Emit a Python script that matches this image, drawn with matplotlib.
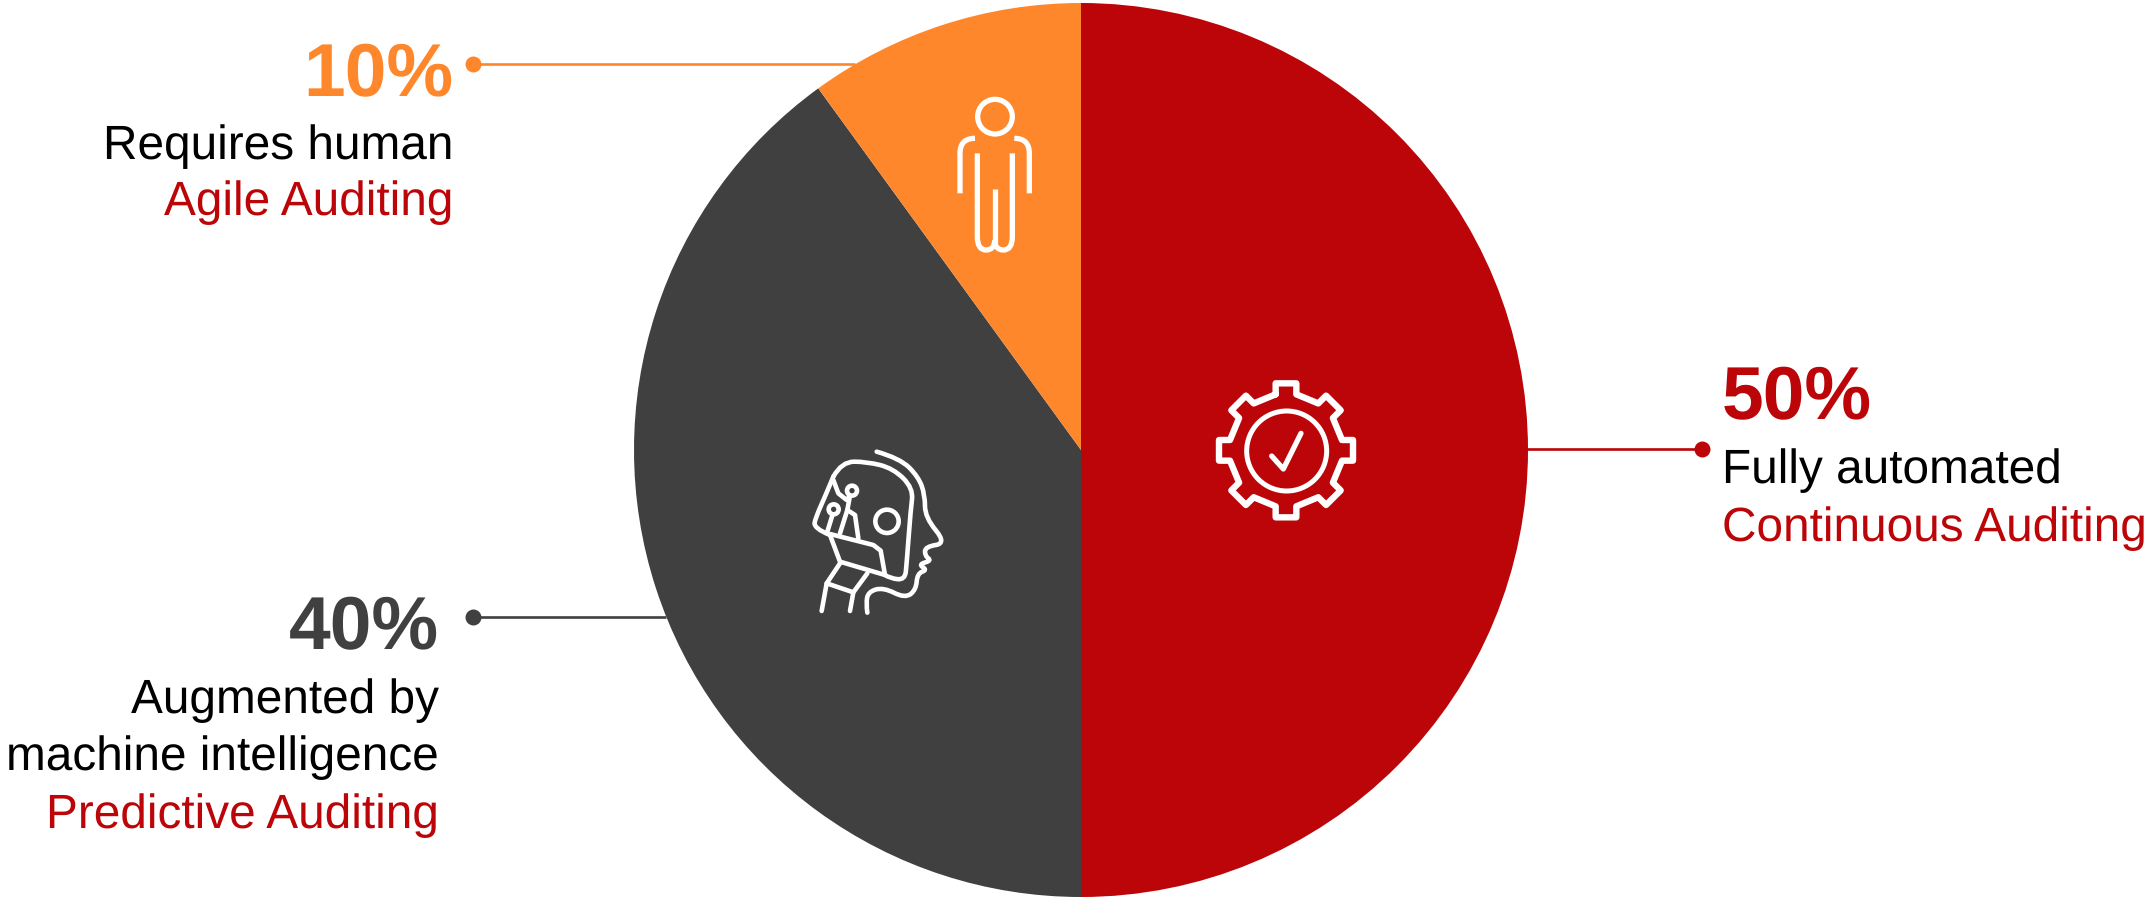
import matplotlib
matplotlib.use("Agg")
import matplotlib.pyplot as plt
import numpy as np
from matplotlib.patches import Circle, PathPatch
from matplotlib.path import Path

W, H = 2146, 898

# chart data
shares = [50, 40, 10]
colors = ["#BC0508", "#404040", "#FF872B"]
pct_labels = ["50%", "40%", "10%"]
descriptions = [["Fully automated"], ["Augmented by", "machine intelligence"], ["Requires human"]]
auditing_types = ["Continuous Auditing", "Predictive Auditing", "Agile Auditing"]

RED = "#BC0508"
plt.rcParams["font.family"] = ["Liberation Sans", "DejaVu Sans"]
plt.rcParams["text.hinting"] = "no_hinting"

fig = plt.figure(figsize=(W / 100, H / 100), dpi=100)
ax = fig.add_axes([0, 0, 1, 1])


def flip(y):
    return H - y


# pie in pixel coordinates
ax.pie(shares, colors=colors, startangle=90, counterclock=False,
       center=(1081, flip(450)), radius=447, frame=True,
       wedgeprops=dict(linewidth=0))
ax.set_xlim(0, W)
ax.set_ylim(0, H)
ax.set_aspect("equal")
ax.axis("off")


# leader lines with a dot at the label end
def leader(x0, x1, y, color):
    ax.plot([x0, x1], [flip(y), flip(y)], color=color, lw=1.9, solid_capstyle="butt", zorder=3)
    ax.plot([x0], [flip(y)], "o", color=color, ms=11.5, mew=0, zorder=3)


leader(1702, 1527, 449, colors[0])
leader(473, 666, 617, colors[1])
leader(473, 855, 64, colors[2])


def label(x, ha, y_pct, y_lines, y_type, i):
    ax.text(x, flip(y_pct), pct_labels[i], color=colors[i], fontsize=SIZE_PCT, fontweight="bold",
            ha=ha, va="baseline")
    for line, y in zip(descriptions[i], y_lines):
        ax.text(x, flip(y), line, color="black", fontsize=SIZE_TEXT, ha=ha, va="baseline")
    ax.text(x, flip(y_type), auditing_types[i], color=RED, fontsize=SIZE_TEXT, ha=ha, va="baseline")


SIZE_PCT = 54
SIZE_TEXT = 34.4
label(1722, "left", 419, [483], 541, 0)
label(439, "right", 649, [713, 770], 828, 1)
label(453, "right", 96, [159], 215, 2)


def to_px(pts, origin):
    return [(origin[0] + x / 3, flip(origin[1] + y / 3)) for x, y in pts]


def stroke(pts, origin, lw=3.8, smooth=False, closed=False, cap="round"):
    v = to_px(pts, origin)
    if smooth and len(v) > 2:
        verts = [v[0]]
        codes = [Path.MOVETO]
        for j in range(1, len(v) - 1):
            end = v[j + 1] if j == len(v) - 2 else ((v[j][0] + v[j + 1][0]) / 2, (v[j][1] + v[j + 1][1]) / 2)
            verts += [v[j], end]
            codes += [Path.CURVE3, Path.CURVE3]
    else:
        verts = v + ([v[0]] if closed else [])
        codes = [Path.MOVETO] + [Path.LINETO] * (len(verts) - 1)
    ax.add_patch(PathPatch(Path(verts, codes), fill=False, ec="white", lw=lw,
                           capstyle=cap, joinstyle="round", zorder=4))


def ring(x, y, r, origin, lw=3.8):
    cx, cy = to_px([(x, y)], origin)[0]
    ax.add_patch(Circle((cx, cy), r / 3, fill=False, ec="white", lw=lw, zorder=4))


# person
o = (920, 80)
ring(225, 110, 52, o)
stroke([(120, 340), (120, 265), (120, 175), (165, 175)], o, smooth=True, cap="butt")
stroke([(328, 340), (328, 265), (328, 175), (283, 175)], o, smooth=True, cap="butt")
stroke([(172, 220), (172, 430), (172, 510), (224, 510), (224, 480)], o, smooth=True, cap="butt")
stroke([(277, 220), (277, 430), (277, 510), (224, 510), (224, 480)], o, smooth=True, cap="butt")
stroke([(224, 328), (224, 490)], o, cap="butt")

# robot head
o = (790, 430)
R = 3.3
stroke([(260, 65), (330, 85), (385, 140), (405, 195), (405, 262), (470, 340), (405, 350), (405, 378),
        (425, 392), (385, 403), (412, 420), (382, 430), (378, 480), (345, 505), (280, 472), (235, 485),
        (228, 520), (232, 548)], o, lw=R, smooth=True)
stroke([(130, 140), (155, 95), (230, 95), (310, 115), (370, 175), (362, 240), (350, 400), (345, 450),
        (300, 445), (285, 435)], o, lw=R, smooth=True)
stroke([(285, 435), (150, 395), (120, 315)], o, lw=R)
stroke([(120, 315), (70, 295), (78, 260), (105, 200), (130, 140)], o, lw=R, smooth=True)
stroke([(120, 312), (250, 345), (272, 362), (285, 435)], o, lw=R)
stroke([(130, 150), (145, 190), (170, 210), (180, 197)], o, lw=R)
stroke([(180, 197), (172, 240), (150, 310)], o, lw=R)
stroke([(172, 240), (195, 255), (205, 325)], o, lw=R)
stroke([(128, 253), (112, 305)], o, lw=R)
ring(186, 182, 15, o, lw=R)
ring(131, 238, 15, o, lw=R)
ring(291, 274, 35, o, lw=R)
stroke([(150, 400), (110, 460), (95, 543)], o, lw=R)
stroke([(110, 460), (190, 487)], o, lw=R)
stroke([(232, 430), (190, 487), (180, 543)], o, lw=R)

# gear
o = (1200, 370)
gear_c = np.array([258, 241])
tooth = [(-31, -168), (-31, -201), (31, -201), (31, -168)]
gear_pts = []
for k in range(8):
    a = np.pi / 4 * k
    rot = np.array([[np.cos(a), -np.sin(a)], [np.sin(a), np.cos(a)]])
    gear_pts += [tuple(gear_c + rot @ np.array(p)) for p in tooth]
stroke(gear_pts, o, lw=4.6, closed=True)
ring(260, 243, 120, o, lw=3.6)
stroke([(215, 258), (250, 297), (303, 190)], o, lw=3.8)

fig.savefig("out.png", dpi=100)
